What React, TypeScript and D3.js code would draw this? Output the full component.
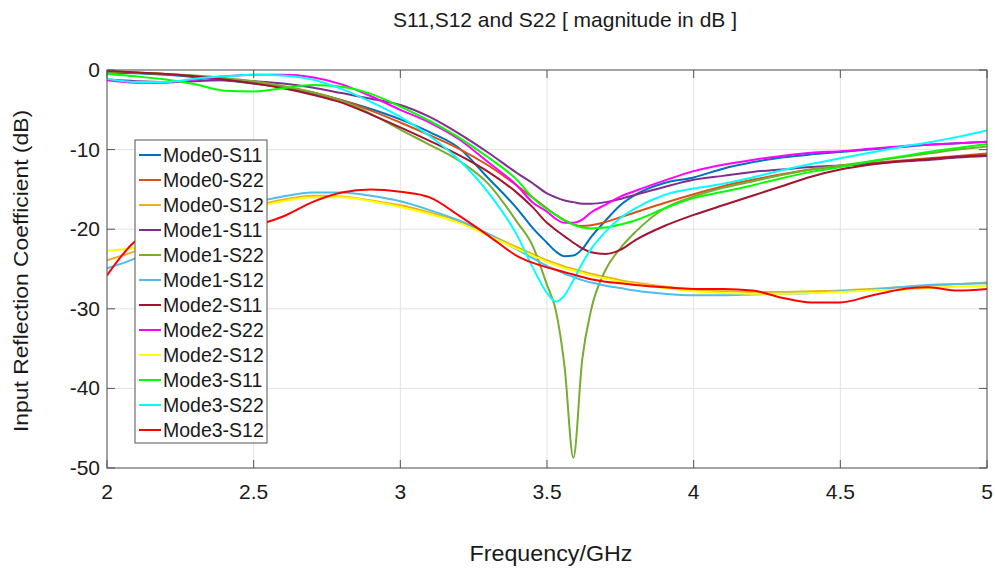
import * as d3 from "d3";

// frequency grid (GHz), denser around the resonance
const freq = [
  2.0, 2.1, 2.2, 2.3, 2.4, 2.5, 2.6, 2.7, 2.8, 2.9, 3.0, 3.1, 3.2, 3.3, 3.4,
  3.45, 3.5, 3.53, 3.56, 3.59, 3.62, 3.65, 3.7, 3.75, 3.8, 3.9, 4.0, 4.1, 4.2,
  4.3, 4.4, 4.5, 4.6, 4.7, 4.8, 4.9, 5.0,
];

const mode0S11 = [
  -0.3, -0.4, -0.6, -0.9, -1.3, -1.7, -2.2, -2.9, -3.8, -4.9, -6.2, -7.8, -9.8,
  -13.6, -17.5, -19.8, -21.7, -22.8, -23.4, -23.3, -22.5, -21.0, -18.9, -17.0,
  -15.7, -14.2, -13.5, -12.4, -11.6, -11.0, -10.6, -10.3, -10.0, -9.7, -9.4,
  -9.2, -9.0,
];
const mode0S22 = [
  -0.2, -0.3, -0.5, -0.8, -1.2, -1.6, -2.1, -2.8, -3.8, -5.1, -6.6, -8.2, -9.9,
  -12.0, -14.6, -16.0, -17.4, -18.2, -18.9, -19.4, -19.6, -19.5, -19.1, -18.5,
  -17.9, -16.7, -15.6, -14.6, -13.8, -13.1, -12.5, -12.1, -11.7, -11.4, -11.1,
  -10.8, -10.5,
];
const mode0S12 = [
  -23.9, -22.7, -21.0, -19.4, -18.0, -17.1, -16.3, -15.8, -15.9, -16.4, -17.0,
  -17.9, -19.0, -20.6, -22.3, -23.1, -23.9, -24.3, -24.7, -25.0, -25.3, -25.6,
  -26.0, -26.4, -26.7, -27.2, -27.6, -27.8, -27.9, -27.9, -27.8, -27.7, -27.5,
  -27.3, -27.1, -26.9, -26.7,
];
const mode1S11 = [
  -1.2, -1.4, -1.5, -1.4, -1.3, -1.4, -1.7, -2.2, -2.9, -3.6, -4.4, -5.9, -8.0,
  -10.4, -13.0, -14.2, -15.5, -16.0, -16.4, -16.6, -16.8, -16.8, -16.6, -16.2,
  -15.7, -14.7, -13.8, -13.3, -12.8, -12.5, -12.2, -12.0, -11.8, -11.5, -11.3,
  -11.0, -10.8,
];
const mode1S22 = [
  -0.2, -0.3, -0.5, -0.7, -1.0, -1.4, -2.0, -2.8, -3.9, -5.5, -7.5, -9.4, -11.4,
  -14.3, -19.2, -22.0, -27.0, -30.2, -37.3, -48.7, -36.4, -30.2, -25.1, -22.4,
  -20.4, -17.4, -15.9, -14.8, -14.0, -13.2, -12.5, -12.0, -11.5, -11.0, -10.5,
  -10.0, -9.6,
];
const mode1S12 = [
  -24.9, -23.6, -21.5, -19.6, -17.9, -16.7, -15.9, -15.4, -15.4, -15.8, -16.5,
  -17.6, -18.9, -20.6, -22.6, -23.6, -24.6, -25.1, -25.6, -26.0, -26.4, -26.7,
  -27.1, -27.4, -27.7, -28.1, -28.3, -28.3, -28.2, -28.1, -28.0, -27.8, -27.6,
  -27.3, -27.0, -26.9, -26.8,
];
const mode2S11 = [
  -0.1, -0.3, -0.5, -0.8, -1.2, -1.7, -2.3, -3.1, -4.1, -5.6, -7.2, -8.9, -10.7,
  -12.8, -15.5, -17.2, -19.2, -20.1, -20.9, -21.7, -22.4, -22.9, -23.1, -22.6,
  -21.4, -19.6, -18.2, -17.0, -15.8, -14.6, -13.4, -12.5, -11.9, -11.5, -11.2,
  -10.9, -10.7,
];
const mode2S22 = [
  -1.3, -1.6, -1.6, -1.2, -0.8, -0.6, -0.6, -0.9, -1.8, -3.3, -5.0, -6.6, -8.7,
  -11.6, -14.6, -16.6, -17.8, -18.7, -19.2, -19.2, -18.8, -17.9, -16.9, -15.9,
  -15.2, -13.9, -12.7, -11.9, -11.3, -10.8, -10.4, -10.2, -9.9, -9.6, -9.4,
  -9.2, -9.0,
];
const mode2S12 = [
  -22.7, -22.3, -21.2, -19.8, -18.4, -17.3, -16.5, -16.0, -16.0, -16.5, -17.2,
  -18.1, -19.2, -20.8, -22.5, -23.3, -24.1, -24.5, -24.9, -25.2, -25.5, -25.8,
  -26.2, -26.6, -26.9, -27.4, -27.8, -28.0, -28.1, -28.1, -28.0, -27.9, -27.7,
  -27.6, -27.4, -27.2, -27.1,
];
const mode3S11 = [
  -0.5, -0.8, -1.2, -1.8, -2.6, -2.7, -2.3, -1.9, -2.1, -3.0, -4.6, -6.4, -8.5,
  -11.0, -13.9, -16.0, -17.5, -18.2, -18.9, -19.4, -19.8, -19.9, -19.8, -19.4,
  -18.9, -17.4, -16.1, -15.3, -14.5, -13.6, -12.8, -12.2, -11.5, -10.9, -10.3,
  -9.8, -9.3,
];
const mode3S22 = [
  -1.1, -1.5, -1.5, -1.1, -0.8, -0.6, -0.7, -1.2, -2.4, -4.0, -5.9, -8.3, -11.3,
  -15.4, -20.9, -24.7, -28.0, -29.1, -28.3, -26.4, -24.3, -22.5, -20.3, -18.6,
  -17.4, -15.7, -14.9, -14.3, -13.5, -12.6, -11.8, -11.1, -10.4, -9.7, -9.1,
  -8.4, -7.6,
];
const mode3S12 = [
  -25.8, -21.4, -20.0, -19.8, -19.8, -19.5, -18.4, -16.6, -15.4, -15.0, -15.3,
  -16.0, -18.3, -20.8, -23.4, -24.2, -24.8, -25.1, -25.4, -25.7, -26.0, -26.3,
  -26.6, -26.8, -27.0, -27.3, -27.5, -27.5, -27.7, -28.6, -29.2, -29.2, -28.4,
  -27.6, -27.3, -27.7, -27.5,
];

const seriesNames = [
  "Mode0-S11", "Mode0-S22", "Mode0-S12",
  "Mode1-S11", "Mode1-S22", "Mode1-S12",
  "Mode2-S11", "Mode2-S22", "Mode2-S12",
  "Mode3-S11", "Mode3-S22", "Mode3-S12",
];
const seriesValues = [
  mode0S11, mode0S22, mode0S12,
  mode1S11, mode1S22, mode1S12,
  mode2S11, mode2S22, mode2S12,
  mode3S11, mode3S22, mode3S12,
];
const colors = [
  "#0072BD", "#D95319", "#EDB120",
  "#7E2F8E", "#77AC30", "#4DBEEE",
  "#A2142F", "#FF00FF", "#FFFF00",
  "#00FF00", "#00FFFF", "#FF0000",
];

const xTicks = [2, 2.5, 3, 3.5, 4, 4.5, 5];
const yTicks = [0, -10, -20, -30, -40, -50];

const title = "S11,S12 and S22 [ magnitude in dB ]";
const xLabel = "Frequency/GHz";
const yLabel = "Input Reflection Coefficient (dB)";

export default function App() {
  const width = 995,
    height = 574,
    left = 107,
    right = 987,
    top = 70,
    bottom = 468;
  const font = "Arial, 'Liberation Sans', Helvetica, sans-serif";

  const x = d3.scaleLinear([2, 5], [left, right]);
  const y = d3.scaleLinear([-50, 0], [bottom, top]);
  const line = d3
    .line<number>()
    .x((d, i) => x(freq[i]))
    .y((d) => y(d))
    .curve(d3.curveMonotoneX);

  const tickLen = 8;
  const legX = 135,
    legY = 140,
    legW = 132,
    legRow = 25;

  return (
    <svg
      width={width}
      height={height}
      style={{ position: "absolute", left: 0, top: 0, background: "#fff" }}
      fontFamily={font}
    >
      <defs>
        <clipPath id="plot-clip">
          <rect x={left} y={top} width={right - left} height={bottom - top} />
        </clipPath>
      </defs>

      {/* grid */}
      <g stroke="#e3e3e3" strokeWidth={1}>
        {xTicks.map((t) => (
          <line key={"gx" + t} x1={x(t)} x2={x(t)} y1={top} y2={bottom} />
        ))}
        {yTicks.map((t) => (
          <line key={"gy" + t} x1={left} x2={right} y1={y(t)} y2={y(t)} />
        ))}
      </g>

      {/* curves */}
      <g clipPath="url(#plot-clip)" fill="none" strokeWidth={2}>
        {seriesValues.map((vals, i) => (
          <path key={seriesNames[i]} d={line(vals) ?? ""} stroke={colors[i]} />
        ))}
      </g>

      {/* axes box + ticks */}
      <g stroke="#555" strokeWidth={1} fill="none">
        <rect x={left} y={top} width={right - left} height={bottom - top} />
        {xTicks.map((t) => (
          <g key={"tx" + t}>
            <line x1={x(t)} x2={x(t)} y1={bottom} y2={bottom - tickLen} />
            <line x1={x(t)} x2={x(t)} y1={top} y2={top + tickLen} />
          </g>
        ))}
        {yTicks.map((t) => (
          <g key={"ty" + t}>
            <line x1={left} x2={left + tickLen} y1={y(t)} y2={y(t)} />
            <line x1={right} x2={right - tickLen} y1={y(t)} y2={y(t)} />
          </g>
        ))}
      </g>

      {/* tick labels */}
      <g fill="#1a1a1a" fontSize={21}>
        {xTicks.map((t) => (
          <text key={"lx" + t} x={x(t)} y={499} textAnchor="middle">
            {t}
          </text>
        ))}
        {yTicks.map((t) => (
          <text key={"ly" + t} x={left - 7} y={y(t) + 7} textAnchor="end">
            {t}
          </text>
        ))}
      </g>

      {/* titles */}
      <text
        x={565}
        y={27}
        textAnchor="middle"
        fontSize={21}
        textLength={344}
        lengthAdjust="spacingAndGlyphs"
        fill="#1a1a1a"
      >
        {title}
      </text>
      <text
        x={551}
        y={561}
        textAnchor="middle"
        fontSize={22}
        textLength={163}
        lengthAdjust="spacingAndGlyphs"
        fill="#1a1a1a"
      >
        {xLabel}
      </text>
      <text
        transform={`translate(28, 271) rotate(-90)`}
        textAnchor="middle"
        fontSize={21}
        textLength={322}
        lengthAdjust="spacingAndGlyphs"
        fill="#1a1a1a"
      >
        {yLabel}
      </text>

      {/* legend */}
      <g>
        <rect
          x={legX}
          y={legY}
          width={legW}
          height={legRow * seriesNames.length + 3}
          fill="#fff"
          stroke="#555"
          strokeWidth={1}
        />
        {seriesNames.map((name, i) => {
          const cy = legY + 15 + i * legRow;
          return (
            <g key={"leg" + name}>
              <line
                x1={legX + 4}
                x2={legX + 26}
                y1={cy}
                y2={cy}
                stroke={colors[i]}
                strokeWidth={2}
              />
              <text x={legX + 28} y={cy + 7} fontSize={19.5} fill="#1a1a1a">
                {name}
              </text>
            </g>
          );
        })}
      </g>
    </svg>
  );
}
